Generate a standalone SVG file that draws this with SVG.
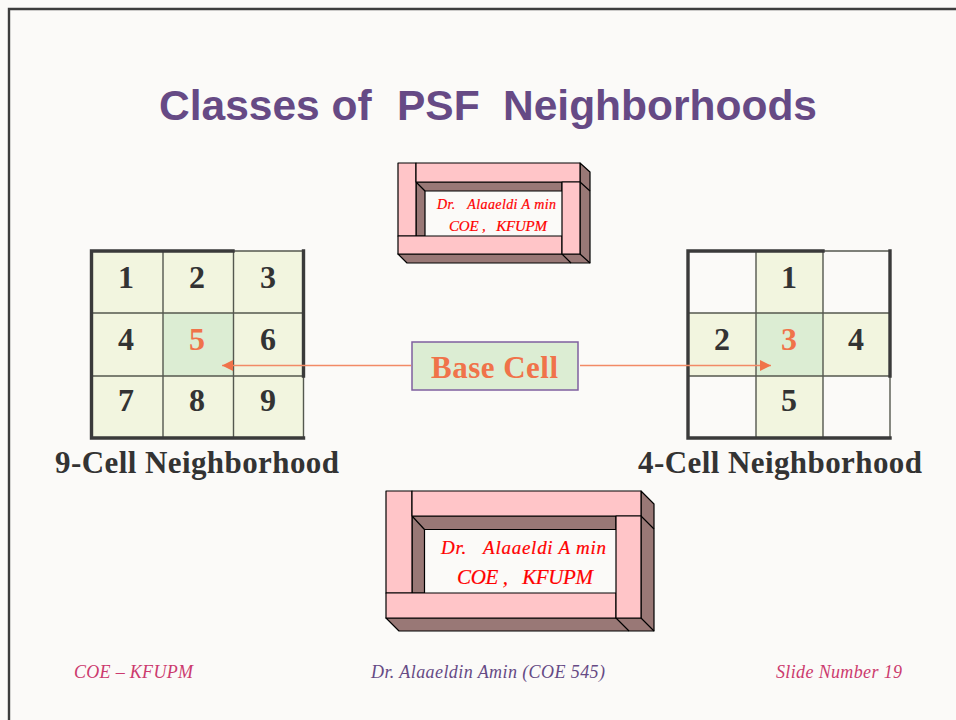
<svg xmlns="http://www.w3.org/2000/svg" width="956" height="720" viewBox="0 0 956 720">
  <style>
    text { white-space: pre; }
    .title { font: bold 42.500px "Liberation Sans", Arial, sans-serif; fill: #664a85; }
    .num { font: bold 32px "Liberation Serif", "Times New Roman", serif; fill: #333333; text-anchor: middle; }
    .hot { fill: #f0734a; }
    .cap { font: bold 31px "Liberation Serif", "Times New Roman", serif; fill: #333333; }
    .foot { font: italic 18px "Liberation Serif", "Times New Roman", serif; }
    .stamp { font-family: "Liberation Serif", "Times New Roman", serif; font-style: italic; fill: #ff0000; stroke: #ff0000; stroke-width: 0.2; }
    .pink { fill: #ffc5c8; stroke: #000; stroke-width: 1.2; stroke-linejoin: round; }
    .brown { fill: #997876; stroke: #000; stroke-width: 1.2; stroke-linejoin: round; }
    .pane { fill: #fbfaf8; }
    .cell { fill: #f2f5df; }
    .base { fill: #dcedd3; }
    .thin { stroke: #55584f; stroke-width: 1.4; fill: none; }
    .thick { stroke: #3a3a3a; stroke-width: 3.4; fill: none; stroke-linecap: square; }
    .lead { stroke: #f28a66; stroke-width: 1.5; fill: none; }
  </style>
  <defs>
    <marker id="tip" markerUnits="userSpaceOnUse" markerWidth="12" markerHeight="12" refX="11" refY="5.5" orient="auto">
      <path d="M0 0L11 5.5L0 11Z" fill="#f0734a"/>
    </marker>
  </defs>

  <rect width="956" height="720" fill="#fbfaf8"/>
  <path d="M9 720V9H956" fill="none" stroke="#3d3d3d" stroke-width="2.4"/>

  <text class="title" x="159" y="120">Classes of  <tspan x="397">PSF  </tspan><tspan x="503">Neighborhoods</tspan></text>

  <g id="stamp-top">
    <rect class="pane" x="425" y="191" width="137" height="45"/>
    <path class="brown" d="M416 182H562V191H425V236H416Z"/>
    <path class="brown" d="M416 182L425 191"/>
    <path class="brown" d="M580 163L590 172V263H407L398 254H580Z"/>
    <path class="brown" d="M580 182L590 191M562 254L571 263M580 254L590 263" fill="none"/>
    <rect class="pink" x="398" y="163" width="18" height="73"/>
    <rect class="pink" x="416" y="163" width="164" height="19"/>
    <rect class="pink" x="398" y="236" width="164" height="18"/>
    <rect class="pink" x="562" y="182" width="18" height="72"/>
    <text class="stamp" x="437" y="209" font-size="14" textLength="119" lengthAdjust="spacing">Dr.   Alaaeldi A min</text>
    <text class="stamp" x="449" y="231" font-size="15" textLength="98" lengthAdjust="spacing">COE ,   KFUPM</text>
  </g>

  <g id="stamp-bottom">
    <rect class="pane" x="424" y="529" width="192" height="64"/>
    <path class="brown" d="M412 516H616V529.500H424.500V593H412Z"/>
    <path class="brown" d="M412 516L424.500 529.500"/>
    <path class="brown" d="M641 491L654 504V631H399L386 618H641Z"/>
    <path class="brown" d="M641 516L654 529M616 618L629 631M641 618L654 631" fill="none"/>
    <rect class="pink" x="386" y="491" width="26" height="102"/>
    <rect class="pink" x="412" y="491" width="229" height="25"/>
    <rect class="pink" x="386" y="593" width="230" height="25"/>
    <rect class="pink" x="616" y="516" width="25" height="102"/>
    <text class="stamp" x="441" y="554" font-size="19" textLength="165" lengthAdjust="spacing">Dr.   Alaaeldi A min</text>
    <text class="stamp" x="457" y="584" font-size="21" textLength="136" lengthAdjust="spacing">COE ,   KFUPM</text>
  </g>

  <g id="grid-nine">
    <rect class="cell" x="91.500" y="251" width="212" height="187"/>
    <rect class="base" x="163" y="313" width="70.500" height="63"/>
    <path class="thin" d="M163 251V438M233.500 251V438M91.500 313H303.500M91.500 376H303.500M233.500 251H303.500M303.500 376V438"/>
    <path class="thick" d="M91.500 438V251H233M303.500 251V376M91.500 438H303.500"/>
    <text class="num" x="126" y="288">1</text>
    <text class="num" x="197" y="288">2</text>
    <text class="num" x="268" y="288">3</text>
    <text class="num" x="126" y="350">4</text>
    <text class="num hot" x="197" y="350">5</text>
    <text class="num" x="268" y="350">6</text>
    <text class="num" x="126" y="411">7</text>
    <text class="num" x="197" y="411">8</text>
    <text class="num" x="268" y="411">9</text>
    <text class="cap" x="55" y="473" textLength="284" lengthAdjust="spacing">9-Cell Neighborhood</text>
  </g>

  <g id="grid-four">
    <rect class="cell" x="756" y="251" width="67" height="187"/>
    <rect class="cell" x="688" y="313" width="202" height="63"/>
    <rect class="base" x="756" y="313" width="67" height="63"/>
    <path class="thin" d="M756 251V438M823 251V438M688 313H890M688 376H890M823 251H890M890 376V438"/>
    <path class="thick" d="M688 438V251H823M890 251V376M688 438H890"/>
    <text class="num" x="789" y="288">1</text>
    <text class="num" x="722" y="350">2</text>
    <text class="num hot" x="789" y="350">3</text>
    <text class="num" x="856" y="350">4</text>
    <text class="num" x="789" y="411">5</text>
    <text class="cap" x="638" y="473" textLength="284" lengthAdjust="spacing">4-Cell Neighborhood</text>
  </g>

  <g id="connectors">
    <path class="lead" d="M411 365.500H222" marker-end="url(#tip)"/>
    <path class="lead" d="M580 365.500H771" marker-end="url(#tip)"/>
  </g>

  <g id="base-cell">
    <rect x="412" y="342" width="166" height="48" fill="#dcedd3" stroke="#7f5f9f" stroke-width="1.500"/>
    <text x="431" y="378" textLength="127" lengthAdjust="spacing" font-family="Liberation Serif, Times New Roman, serif" font-weight="bold" font-size="31" fill="#f0734a">Base Cell</text>
  </g>

  <g id="footer">
    <text class="foot" x="74" y="678" fill="#cc3a6e" textLength="119" lengthAdjust="spacing">COE – KFUPM</text>
    <text class="foot" x="371" y="678" fill="#664a85" textLength="234" lengthAdjust="spacing">Dr. Alaaeldin Amin (COE 545)</text>
    <text class="foot" x="776" y="678" fill="#cc3a6e" textLength="126" lengthAdjust="spacing">Slide Number 19</text>
  </g>
</svg>
